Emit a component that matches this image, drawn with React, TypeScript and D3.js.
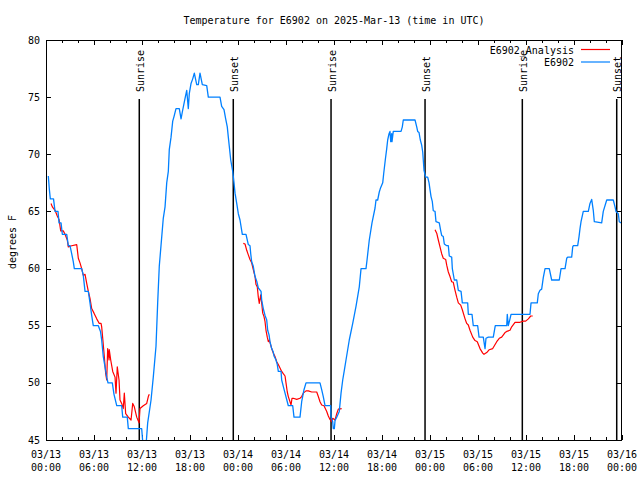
import React from "react";
import * as d3 from "d3";

// hours since 2025-03-13 00:00 UTC, temperature (degrees F)
const e6902: [number, number][] = [
  [0.29, 68.1], [0.41, 67.0], [0.54, 66.1], [0.94, 66.1], [1.13, 65.0], [1.5, 65.0], [1.63, 64.0], [1.88, 64.0],
  [2.04, 63.0], [2.59, 63.0], [2.79, 62.0], [3.0, 62.0], [3.21, 61.3], [3.41, 60.6], [3.54, 60.0], [4.46, 60.0],
  [4.66, 59.4], [4.88, 58.0], [5.29, 58.0], [5.5, 57.0], [5.71, 55.9], [5.91, 55.0], [6.54, 55.0], [6.81, 54.5],
  [6.96, 53.75], [7.16, 52.3], [7.38, 51.4], [7.59, 50.5], [7.75, 50.0], [8.29, 50.0], [8.5, 49.0], [8.84, 48.0],
  [9.46, 48.0], [9.59, 47.0], [10.16, 47.0], [10.29, 46.0], [11.96, 46.0], [12.13, 44.5], [12.5, 44.5], [12.71, 46.5],
  [13.13, 48.5], [13.41, 50.5], [13.75, 53.2], [13.96, 57.0], [14.16, 60.2], [14.66, 64.4], [14.88, 65.4], [15.09, 67.5],
  [15.29, 68.5], [15.41, 70.4], [15.63, 71.5], [15.84, 72.9], [16.0, 73.3], [16.25, 74.0], [16.66, 74.0], [16.88, 73.1],
  [17.04, 73.7], [17.38, 74.9], [17.59, 75.6], [17.79, 74.0], [17.91, 75.3], [18.13, 76.2], [18.34, 76.6], [18.54, 77.1],
  [18.84, 76.1], [19.04, 76.1], [19.25, 77.1], [19.54, 76.1], [20.09, 76.0], [20.29, 75.0], [21.75, 75.0], [21.96, 74.2],
  [22.25, 73.9], [22.46, 73.1], [22.66, 72.4], [22.79, 71.5], [22.91, 70.7], [23.09, 69.5], [23.34, 68.5], [23.5, 67.5],
  [23.63, 66.6], [23.84, 65.7], [24.04, 64.8], [24.25, 64.25], [24.54, 63.0], [25.0, 63.0], [25.29, 62.1], [25.5, 62.0],
  [25.59, 61.3], [25.71, 60.6], [25.91, 60.2], [26.13, 59.3], [26.34, 58.9], [26.54, 58.3], [26.88, 58.0], [26.96, 57.25],
  [27.16, 56.5], [27.38, 55.9], [27.59, 55.5], [27.71, 54.6], [27.88, 54.2], [28.0, 53.6], [28.21, 53.0], [28.41, 52.7],
  [28.5, 52.35], [28.75, 52.0], [28.91, 51.6], [29.04, 51.0], [29.38, 51.0], [29.46, 50.25], [29.66, 49.7], [29.88, 49.1],
  [30.16, 48.35], [30.29, 48.0], [30.84, 48.0], [31.0, 47.0], [31.75, 47.0], [31.96, 48.35], [32.25, 49.4], [32.5, 50.0],
  [34.25, 50.0], [34.46, 49.4], [34.66, 48.8], [34.88, 48.0], [35.59, 48.0], [35.63, 47.0], [35.84, 46.6], [35.91, 46.0],
  [36.04, 46.0], [36.13, 46.7], [36.34, 47.0], [36.66, 47.5], [36.88, 49.1], [37.09, 50.25], [37.29, 51.1], [37.5, 52.0],
  [37.91, 53.75], [38.34, 55.2], [38.75, 56.7], [39.16, 58.4], [39.38, 60.0], [40.0, 60.0], [40.13, 60.75], [40.41, 62.5],
  [40.75, 64.0], [41.13, 65.3], [41.25, 66.0], [41.46, 66.0], [41.66, 66.7], [41.79, 67.0], [42.09, 67.5], [42.21, 68.3],
  [42.41, 69.5], [42.59, 70.5], [42.71, 71.25], [42.88, 71.8], [43.0, 72.0], [43.09, 71.1],
  [43.21, 71.8], [43.25, 71.1], [43.41, 72.0], [44.38, 72.0], [44.54, 72.4], [44.66, 73.0], [46.13, 73.0], [46.34, 72.4],
  [46.46, 72.0], [46.63, 71.9], [46.79, 71.25], [46.96, 70.8], [47.09, 70.2], [47.25, 68.6], [47.46, 68.0], [47.71, 68.0],
  [47.88, 67.5], [48.0, 66.9], [48.13, 66.3], [48.29, 65.85], [48.41, 65.06], [48.63, 65.0], [48.75, 64.1], [49.16, 64.0],
  [49.34, 63.3], [49.46, 62.9], [49.66, 62.8], [49.79, 62.15], [50.09, 62.0], [50.29, 62.0], [50.41, 61.1], [50.71, 61.0],
  [50.79, 60.0], [51.04, 59.0], [51.34, 59.0], [51.54, 58.1], [51.88, 58.0], [52.04, 57.0], [52.71, 57.0], [52.79, 56.0],
  [53.25, 56.0], [53.41, 55.0], [53.96, 55.0], [54.13, 54.0], [54.66, 54.0], [54.88, 53.0], [55.0, 53.9], [55.29, 54.0],
  [55.91, 54.0], [56.16, 55.0], [56.54, 55.0], [57.59, 55.0], [57.66, 56.0], [57.79, 55.0], [58.0, 55.6], [58.13, 56.0],
  [60.5, 56.0], [60.63, 57.0], [61.41, 57.0], [61.54, 57.8], [61.75, 58.1], [61.96, 58.2], [62.16, 59.2], [62.38, 60.0],
  [62.91, 60.0], [63.21, 59.0], [64.16, 59.0], [64.38, 60.0], [64.88, 60.0], [65.09, 60.9], [65.21, 61.0], [65.71, 61.0],
  [65.84, 61.9], [65.91, 62.0], [66.46, 62.0], [66.63, 62.8], [66.75, 63.5], [66.88, 64.1], [67.16, 65.0], [67.79, 65.0],
  [68.0, 65.7], [68.21, 66.05], [68.41, 65.1], [68.54, 64.1], [69.46, 64.0], [69.66, 65.0], [70.09, 66.0], [70.91, 66.0],
  [71.13, 65.4], [71.25, 65.0], [71.54, 64.8], [71.66, 64.1], [71.88, 64.0],
];

const analysisNight1: [number, number][] = [
  [0.63, 65.7], [0.79, 65.4], [1.13, 65.1], [1.41, 64.6], [1.63, 64.3], [1.84, 63.3], [2.16, 63.3], [2.38, 63.0],
  [2.66, 62.5], [2.79, 61.9], [3.21, 62.0], [3.84, 62.1], [4.04, 60.9], [4.25, 60.5], [4.46, 60.0], [4.66, 59.4],
  [4.88, 59.5], [5.09, 58.7], [5.29, 58.0], [5.5, 57.4], [5.71, 56.5], [6.0, 56.1], [6.34, 55.6], [6.66, 55.2],
  [6.88, 55.2], [6.96, 54.9], [7.09, 53.9], [7.29, 52.3], [7.46, 50.8], [7.59, 50.25], [7.71, 53.0], [7.88, 52.0],
  [7.91, 52.9], [8.09, 52.0], [8.34, 51.0], [8.63, 50.5], [8.75, 49.1], [8.91, 51.4], [9.13, 50.25], [9.25, 48.5],
  [9.46, 48.2], [9.66, 47.75], [9.79, 49.1], [9.96, 47.3], [10.29, 47.0], [10.63, 46.75], [10.84, 48.2], [11.04, 47.9],
  [11.34, 47.0], [11.63, 46.5], [11.75, 47.75], [12.16, 48.0], [12.59, 48.2], [12.79, 48.8], [12.91, 49.0],
];

const analysisNight2: [number, number][] = [
  [24.66, 62.2], [24.88, 62.15], [25.09, 61.6], [25.29, 61.2], [25.5, 60.8], [25.71, 60.5], [25.91, 59.9], [26.13, 59.3],
  [26.25, 58.6], [26.41, 58.4], [26.54, 57.5], [26.66, 56.96], [26.84, 57.7], [26.96, 57.0], [27.09, 56.1], [27.25, 55.8],
  [27.38, 55.35], [27.5, 54.6], [27.66, 54.0], [27.79, 53.6], [27.91, 53.75], [28.09, 53.3], [28.21, 53.0], [28.41, 52.6],
  [28.63, 52.3], [28.84, 51.85], [29.04, 51.6], [29.25, 51.3], [29.46, 51.0], [29.66, 50.8], [29.88, 50.6], [30.0, 50.0],
  [30.16, 49.2], [30.29, 48.8], [30.5, 48.35], [30.63, 48.06], [30.75, 48.65], [30.91, 48.65], [31.34, 48.56], [31.75, 48.65],
  [31.96, 48.8], [32.16, 49.1], [32.5, 49.3], [32.79, 49.3], [33.21, 49.2], [33.84, 49.2], [34.04, 48.8], [34.25, 48.35],
  [34.46, 48.06], [34.75, 48.0], [35.09, 47.5], [35.29, 47.1], [35.5, 46.8], [35.71, 46.6], [35.84, 46.9], [36.13, 46.75],
  [36.34, 47.3], [36.54, 47.7], [36.96, 47.75],
];

const analysisNight3: [number, number][] = [
  [48.63, 63.4], [48.84, 63.1], [49.04, 62.5], [49.25, 61.9], [49.46, 61.3], [49.66, 60.9], [49.96, 60.8], [50.09, 60.3],
  [50.29, 59.7], [50.5, 59.3], [50.71, 58.85], [50.91, 58.8], [51.13, 58.1], [51.34, 57.5], [51.54, 57.0], [51.84, 56.8],
  [52.04, 56.4], [52.38, 55.6], [52.59, 55.2], [52.79, 55.06], [53.0, 54.6], [53.34, 54.0], [53.63, 53.7], [53.91, 53.6],
  [54.25, 53.0], [54.59, 52.6], [54.75, 52.5], [55.09, 52.65], [55.41, 52.9], [55.84, 53.0], [56.34, 53.6], [56.66, 53.9],
  [56.96, 54.0], [57.38, 54.4], [57.59, 54.5], [58.0, 54.6], [58.21, 54.9], [58.63, 55.3], [59.25, 55.3], [59.66, 55.4],
  [59.96, 55.4], [60.29, 55.6], [60.59, 55.85], [60.84, 55.85],
];

const sunEventHours = [11.66, 23.41, 35.63, 47.38, 59.54, 71.34];
const sunEventLabels = ["Sunrise", "Sunset", "Sunrise", "Sunset", "Sunrise", "Sunset"];
const yTicks = [45, 50, 55, 60, 65, 70, 75, 80];
const legendLabels = ["E6902_Analysis", "E6902"];
const title = "Temperature for E6902 on 2025-Mar-13 (time in UTC)";
const yLabel = "degrees F";

const START = Date.UTC(2025, 2, 13, 0, 0);
const END = Date.UTC(2025, 2, 16, 0, 0);
const H = 3600 * 1000;

export default function App() {
  const W = 640, HT = 480;
  const left = 46, right = 622, top = 40, bottom = 440;
  const font = "'DejaVu Sans Mono', monospace";
  const red = "#ff0000";
  const blue = "#0080ff";

  const x = d3.scaleUtc().domain([new Date(START), new Date(END)]).range([left, right]);
  const y = d3.scaleLinear().domain([45, 80]).range([bottom, top]);
  const toDate = (h: number) => new Date(START + h * H);

  const line = d3
    .line<[number, number]>()
    .x((d) => x(toDate(d[0])))
    .y((d) => y(d[1]))
    .curve(d3.curveLinear);

  const majorTicks = x.ticks(d3.utcHour.every(6)!);
  const minorTicks = x.ticks(d3.utcHour.every(2)!).filter((t) => t.getUTCHours() % 6 !== 0);
  const fmtDate = d3.utcFormat("%m/%d");
  const fmtTime = d3.utcFormat("%H:%M");

  return (
    <svg width={W} height={HT} style={{ position: "absolute", left: 0, top: 0, background: "#fff" }} fontFamily={font} fontSize={10}>
      <defs>
        <clipPath id="plotclip">
          <rect x={left} y={top} width={right - left} height={bottom - top} />
        </clipPath>
      </defs>
      <rect x={0} y={0} width={W} height={HT} fill="#fff" />

      {/* title */}
      <text x={(left + right) / 2} y={20} textAnchor="middle" dominantBaseline="central">{title}</text>

      {/* y label */}
      <text transform={`translate(12,242) rotate(-90)`} textAnchor="middle" dominantBaseline="central">{yLabel}</text>

      {/* y ticks */}
      {yTicks.map((v) => (
        <g key={"y" + v}>
          <line x1={left} x2={left + 5} y1={Math.round(y(v)) + 0.5} y2={Math.round(y(v)) + 0.5} stroke="#000" />
          <line x1={right - 5} x2={right} y1={Math.round(y(v)) + 0.5} y2={Math.round(y(v)) + 0.5} stroke="#000" />
          <text x={40} y={y(v)} textAnchor="end" dominantBaseline="central">{v}</text>
        </g>
      ))}

      {/* x ticks */}
      {majorTicks.map((t) => {
        const px = Math.round(x(t)) + 0.5;
        return (
          <g key={"x" + t.getTime()}>
            <line x1={px} x2={px} y1={bottom} y2={bottom - 5} stroke="#000" />
            <line x1={px} x2={px} y1={top} y2={top + 5} stroke="#000" />
            <text x={x(t)} y={454.5} textAnchor="middle" dominantBaseline="central">{fmtDate(t)}</text>
            <text x={x(t)} y={467} textAnchor="middle" dominantBaseline="central">{fmtTime(t)}</text>
          </g>
        );
      })}
      {minorTicks.map((t) => {
        const px = Math.round(x(t)) + 0.5;
        return (
          <g key={"m" + t.getTime()}>
            <line x1={px} x2={px} y1={bottom} y2={bottom - 3} stroke="#000" />
            <line x1={px} x2={px} y1={top} y2={top + 3} stroke="#000" />
          </g>
        );
      })}

      {/* sunrise / sunset */}
      {sunEventHours.map((h, i) => {
        const px = x(toDate(h));
        return (
          <g key={"s" + i}>
            <line x1={px} x2={px} y1={99} y2={bottom} stroke="#000" strokeWidth={1.5} />
            <text transform={`translate(${px + 1},92) rotate(-90)`} textAnchor="start" dominantBaseline="central">
              {sunEventLabels[i]}
            </text>
          </g>
        );
      })}

      {/* data */}
      <g clipPath="url(#plotclip)" fill="none" strokeLinejoin="round">
        {[analysisNight1, analysisNight2, analysisNight3].map((seg, i) => (
          <path key={"r" + i} d={line(seg) || ""} stroke={red} strokeWidth={1.2} />
        ))}
        <path d={line(e6902) || ""} stroke={blue} strokeWidth={1.3} />
      </g>

      {/* border */}
      <rect x={left + 0.5} y={top + 0.5} width={right - left - 1} height={bottom - top} fill="none" stroke="#000" />

      {/* legend */}
      {legendLabels.map((lab, i) => {
        const ly = 50 + i * 12.5;
        return (
          <g key={"l" + i}>
            <text x={574} y={ly} textAnchor="end" dominantBaseline="central">{lab}</text>
            <line x1={581} x2={610} y1={ly - 0.5} y2={ly - 0.5} stroke={i === 0 ? red : blue} strokeWidth={1.2} />
          </g>
        );
      })}
    </svg>
  );
}
